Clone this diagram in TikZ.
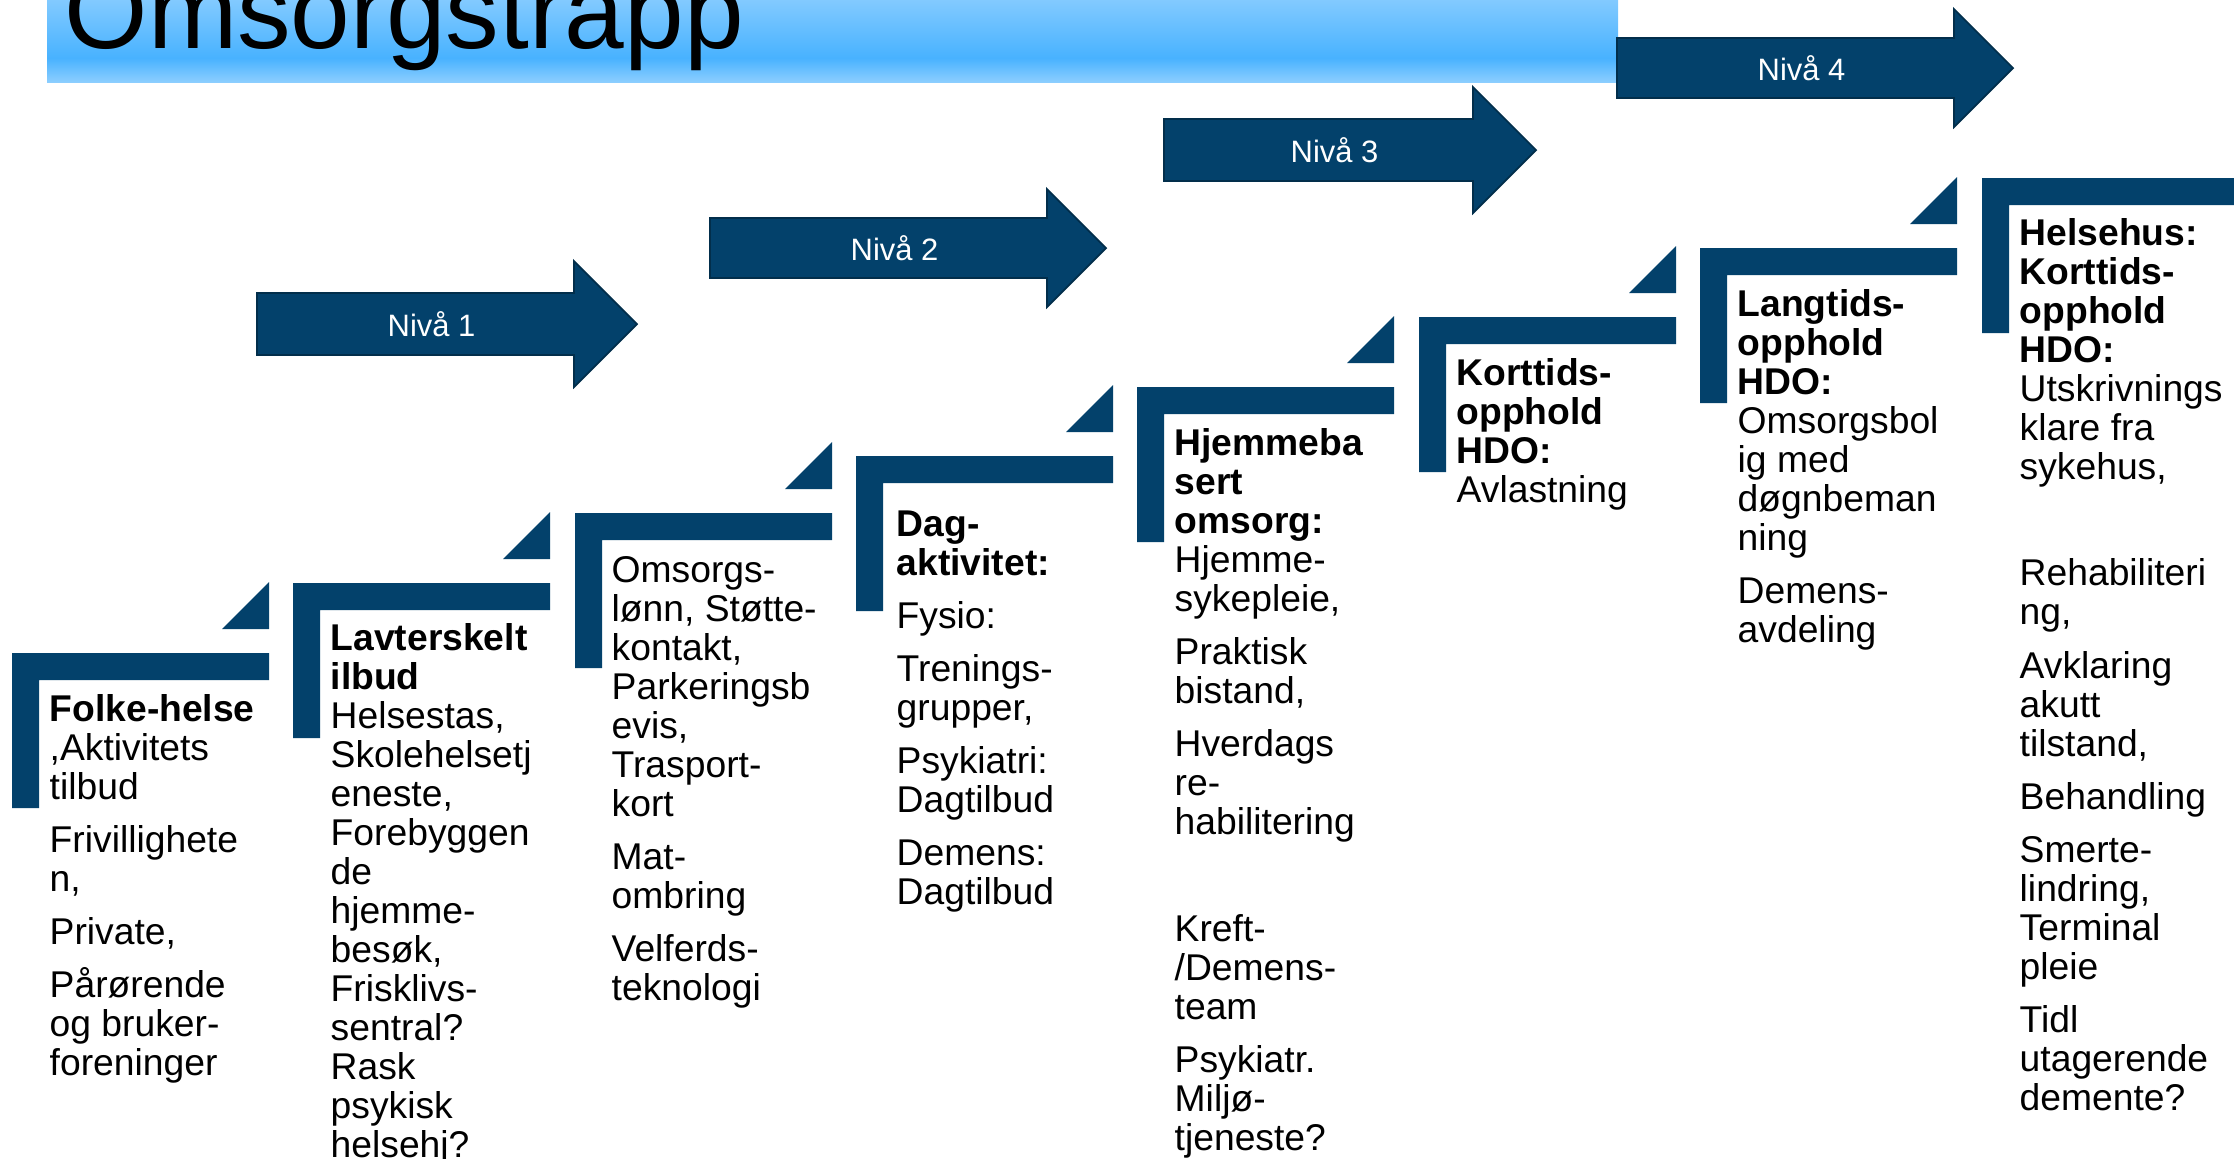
\documentclass[tikz,border=0pt]{standalone}
\usepackage{fontspec}
\setmainfont{Liberation Sans}
\usetikzlibrary{calc}
\definecolor{stepblue}{RGB}{3,65,107}
\definecolor{barlight}{RGB}{140,206,255}
\definecolor{barmid}{RGB}{72,178,255}

\begin{document}
\begin{tikzpicture}[x=0.1mm, y=-0.1mm,
  stepfill/.style={fill=stepblue},
  arrowfill/.style={fill=stepblue, draw=stepblue!70!black, line width=0.5pt, line join=miter},
  nivalabel/.style={text=white, font=\fontsize{8.8}{10}\selectfont, inner sep=0pt, anchor=base},
  steptext/.style={anchor=north west, inner sep=0pt, align=left, font=\fontsize{10.6}{11.1}\selectfont}]

\useasboundingbox (0,0) rectangle (2234,1158);

% title bar
\shade[top color=barlight, bottom color=barmid] (47,-10) rectangle (1618,58);
\shade[top color=barmid, bottom color=barlight] (47,58) rectangle (1618,82);
\node (title) [anchor=base west, inner sep=0pt, font=\fontsize{30.5}{36}\selectfont] at (64,48) {Omsorgstrapp};

% level arrows
\foreach \n/\l/\m/\s/\t/\w/\h in {1/257/324/574/637/31/63, 2/710/248/1047/1106/30/59, 3/1164/150/1473/1536/31/63, 4/1617/68/1954/2013/30/59} {
  \draw[arrowfill] (\l,\m-\w) -- (\s,\m-\w) -- (\s,\m-\h) -- (\t,\m) -- (\s,\m+\h) -- (\s,\m+\w) -- (\l,\m+\w) -- cycle;
  \node (niva\n) [nivalabel] at ({(\l+\s)/2+16},\m+12) {Nivå \n};
}

% steps
\foreach \l/\t in {12/653, 293/583, 575/513, 856/456, 1137/387, 1419/317, 1700/248, 1982/178} {
  \fill[stepfill] (\l,\t) -- ++(257,0) -- ++(0,27) -- ++(-230,0) -- ++(0,128) -- ++(-27,0) -- cycle;
}
\foreach \r/\t in {269/653, 550/583, 832/513, 1113/456, 1394/387, 1676/317, 1957/248} {
  \fill[stepfill] (\r,\t-24) -- ++(0,-47) -- ++(-47,47) -- cycle;
}

\node (folkehelse) [steptext] at (49,694) {\textbf{Folke-helse}\\ ,Aktivitets\\ tilbud\\[4pt] Frivillighete\\ n,\\[4pt] Private,\\[4pt] Pårørende\\ og bruker-\\ foreninger};

\node (lavterskelt) [steptext] at (330,623) {\textbf{Lavterskelt}\\ \textbf{ilbud}\\ Helsestas,\\ Skolehelsetj\\ eneste,\\ Forebyggen\\ de\\ hjemme-\\ besøk,\\ Frisklivs-\\ sentral?\\ Rask\\ psykisk\\ helsehj?};

\node (omsorgslonn) [steptext] at (611,556) {Omsorgs-\\ lønn, Støtte-\\ kontakt,\\ Parkeringsb\\ evis,\\ Trasport-\\ kort\\[4pt] Mat-\\ ombring\\[4pt] Velferds-\\ teknologi};

\node (dagaktivitet) [steptext] at (896,510) {\textbf{Dag-}\\ \textbf{aktivitet:}\\[4pt] Fysio:\\[4pt] Trenings-\\ grupper,\\[4pt] Psykiatri:\\ Dagtilbud\\[4pt] Demens:\\ Dagtilbud};

\node (hjemmebasert) [steptext] at (1174,428) {\textbf{Hjemmeba}\\ \textbf{sert}\\ \textbf{omsorg:}\\ Hjemme-\\ sykepleie,\\[4pt] Praktisk\\ bistand,\\[4pt] Hverdags\\ re-\\ habilitering\\[4pt] ~\\[4pt] Kreft-\\ /Demens-\\ team\\[4pt] Psykiatr.\\ Miljø-\\ tjeneste?};

\node (korttids) [steptext] at (1456,358) {\textbf{Korttids-}\\ \textbf{opphold}\\ \textbf{HDO:}\\ Avlastning};

\node (langtids) [steptext] at (1737,289) {\textbf{Langtids-}\\ \textbf{opphold}\\ \textbf{HDO:}\\ Omsorgsbol\\ ig med\\ døgnbeman\\ ning\\[4pt] Demens-\\ avdeling};

\node (helsehus) [steptext] at (2019,218) {\textbf{Helsehus:}\\ \textbf{Korttids-}\\ \textbf{opphold}\\ \textbf{HDO:}\\ Utskrivnings\\ klare fra\\ sykehus,\\[4pt] ~\\[4pt] Rehabiliteri\\ ng,\\[4pt] Avklaring\\ akutt\\ tilstand,\\[4pt] Behandling\\[4pt] Smerte-\\ lindring,\\ Terminal\\ pleie\\[4pt] Tidl\\ utagerende\\ demente?};
\end{tikzpicture}
\end{document}
